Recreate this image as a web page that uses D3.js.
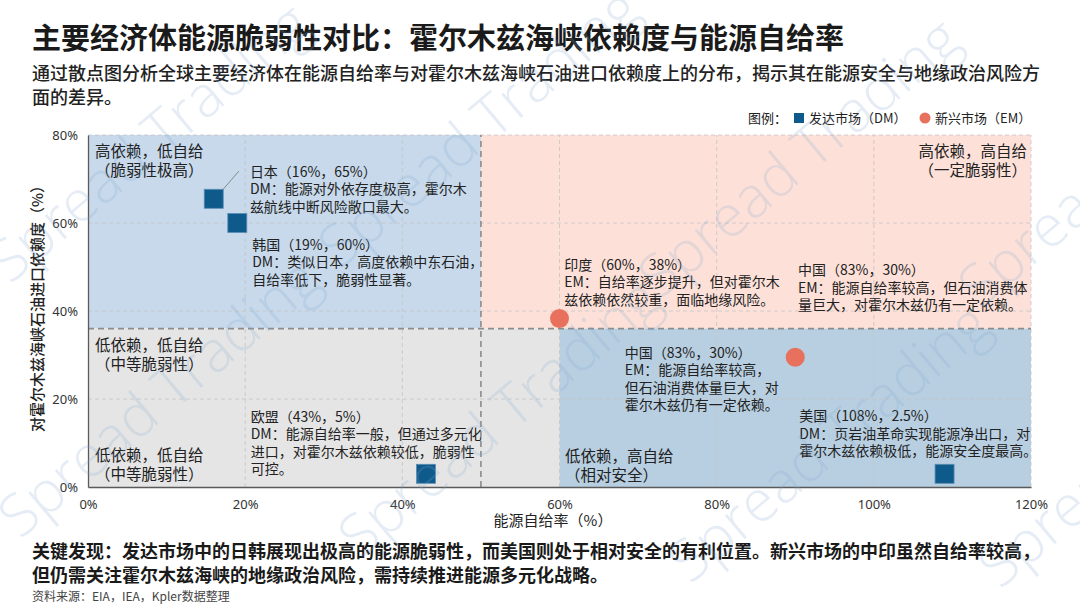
<!DOCTYPE html>
<html><head><meta charset="utf-8">
<script src="https://cdn.jsdelivr.net/npm/d3@7"></script>
<style>
body{margin:0;background:#fff;}
svg{display:block;font-family:"Noto Sans CJK SC","Noto Sans",sans-serif;}
</style></head><body>
<svg id="chart" width="1080" height="608"></svg>
<script>
// ---------------- DATA ----------------
const countries = ["日本", "韩国", "印度", "中国", "欧盟", "美国"];
const marketType = ["DM", "DM", "EM", "EM", "DM", "DM"];
const selfSufficiency = [16, 19, 60, 90, 43, 109];      // x, %
const hormuzDependence = [65.5, 60, 38.3, 29.5, 3, 3];  // y, %
const xTicks = [0, 20, 40, 60, 80, 100, 120];
const yTicks = [0, 20, 40, 60, 80];
const quadrantKeys = ["tl", "tr", "bl", "br"];
const quadX0 = [0, 50, 0, 60];
const quadX1 = [50, 120, 60, 120];
const quadY0 = [36, 36, 0, 0];
const quadY1 = [80, 80, 36, 36];
const thresholdX = 50, thresholdY = 36;

const titleText = "主要经济体能源脆弱性对比：霍尔木兹海峡依赖度与能源自给率";
const subtitleLines = ["通过散点图分析全球主要经济体在能源自给率与对霍尔木兹海峡石油进口依赖度上的分布，揭示其在能源安全与地缘政治风险方", "面的差异。"];
const footerLines = ["关键发现：发达市场中的日韩展现出极高的能源脆弱性，而美国则处于相对安全的有利位置。新兴市场的中印虽然自给率较高，", "但仍需关注霍尔木兹海峡的地缘政治风险，需持续推进能源多元化战略。"];
const sourceText = "资料来源：EIA，IEA，Kpler数据整理";
const legendLabels = ["发达市场（DM）", "新兴市场（EM）"];

const noteTexts = [
  ["日本（16%，65%）", "DM：能源对外依存度极高，霍尔木", "兹航线中断风险敞口最大。"],
  ["韩国（19%，60%）", "DM：类似日本，高度依赖中东石油，", "自给率低下，脆弱性显著。"],
  ["印度（60%，38%）", "EM：自给率逐步提升，但对霍尔木", "兹依赖依然较重，面临地缘风险。"],
  ["中国（83%，30%）", "EM：能源自给率较高，但石油消费体", "量巨大，对霍尔木兹仍有一定依赖。"],
  ["中国（83%，30%）", "EM：能源自给率较高，", "但石油消费体量巨大，对", "霍尔木兹仍有一定依赖。"],
  ["美国（108%，2.5%）", "DM：页岩油革命实现能源净出口，对", "霍尔木兹依赖极低，能源安全度最高。"],
  ["欧盟（43%，5%）", "DM：能源自给率一般，但通过多元化", "进口，对霍尔木兹依赖较低，脆弱性", "可控。"]
];
const quadTexts = [
  ["高依赖，低自给", "（脆弱性极高）"],
  ["高依赖，高自给", "（一定脆弱性）"],
  ["低依赖，低自给", "（中等脆弱性）"],
  ["低依赖，低自给", "（中等脆弱性）"],
  ["低依赖，高自给", "（相对安全）"]
];

// ---------------- LAYOUT / STYLE ----------------
const noteAnchor = [[20.6, 70.45], [20.9, 53.9], [60.6, 49.3], [90.35, 48.1], [68.3, 29.3], [90.5, 14.9], [20.7, 14.8]];
const quadAnchor = [[0.9, 74.95, "start"], [119.5, 74.95, "end"], [0.9, 31.0, "start"], [0.9, 5.8, "start"], [60.7, 5.6, "start"]];
const quadFill = {tl: "#c7d9eb", tr: "#fde1d9", bl: "#e5e5e5", br: "#b8cfe1"};
const markerColor = {DM: "#0e5a8a", EM: "#e8715e"};

const svg = d3.select("#chart");
const x = d3.scaleLinear().domain([0, 120]).range([88, 1031]);
const y = d3.scaleLinear().domain([0, 80]).range([487, 135]);

// quadrants
svg.append("g").selectAll("rect").data(quadrantKeys).join("rect")
  .attr("x", (d, i) => x(quadX0[i]))
  .attr("y", (d, i) => y(quadY1[i]))
  .attr("width", (d, i) => x(quadX1[i]) - x(quadX0[i]))
  .attr("height", (d, i) => y(quadY0[i]) - y(quadY1[i]))
  .attr("fill", d => quadFill[d]);

// grid
const grid = svg.append("g").attr("stroke", "#c4c4c4").attr("stroke-width", 0.8).attr("stroke-dasharray", "4,3");
grid.selectAll(".gx").data(xTicks.filter(d => d > 0)).join("line")
  .attr("x1", d => x(d)).attr("x2", d => x(d)).attr("y1", y(0)).attr("y2", y(80));
grid.selectAll(".gy").data(yTicks.filter(d => d > 0)).join("line")
  .attr("x1", x(0)).attr("x2", x(120)).attr("y1", d => y(d)).attr("y2", d => y(d));

// threshold dividers
const div = svg.append("g").attr("stroke", "#8c8c8c").attr("stroke-width", 1.6).attr("stroke-dasharray", "6,4");
div.append("line").attr("x1", x(thresholdX)).attr("x2", x(thresholdX)).attr("y1", y(0)).attr("y2", y(80));
div.append("line").attr("x1", x(0)).attr("x2", x(120)).attr("y1", y(thresholdY)).attr("y2", y(thresholdY));

// axes
const xAxis = svg.append("g").attr("transform", `translate(0,${y(0)})`)
  .call(d3.axisBottom(x).tickValues(xTicks).tickFormat(d => d + "%").tickSize(0).tickPadding(13));
const yAxis = svg.append("g").attr("transform", `translate(${x(0)},0)`)
  .call(d3.axisLeft(y).tickValues(yTicks).tickFormat(d => d + "%").tickSize(0).tickPadding(10));
[xAxis, yAxis].forEach(a => {
  a.selectAll("text").attr("font-family", "'Noto Sans',sans-serif").attr("font-size", 13).attr("fill", "#333");
});
yAxis.select(".domain").attr("stroke", "#5a5a5a").attr("stroke-width", 1.3);
xAxis.select(".domain").attr("stroke", "#5a5a5a").attr("stroke-width", 1.3);

// axis titles
svg.append("text").attr("x", 553).attr("y", 526).attr("text-anchor", "middle")
  .attr("font-size", 15).attr("fill", "#222").text("能源自给率（%）");
svg.append("text").attr("transform", "translate(43,305) rotate(-90)").attr("text-anchor", "middle")
  .attr("font-size", 15).attr("font-weight", 500).attr("fill", "#222").text("对霍尔木兹海峡石油进口依赖度（%）");

// leader line for Japan
svg.append("line")
  .attr("x1", x(selfSufficiency[0]) + 9).attr("y1", y(hormuzDependence[0]) - 9)
  .attr("x2", x(19.2)).attr("y2", y(71.8))
  .attr("stroke", "#8a8a8a").attr("stroke-width", 1);

// markers
const idx = d3.range(countries.length);
svg.append("g").selectAll("rect").data(idx.filter(i => marketType[i] === "DM")).join("rect")
  .attr("x", i => x(selfSufficiency[i]) - 9.5).attr("y", i => y(hormuzDependence[i]) - 9.5)
  .attr("width", 19).attr("height", 19)
  .attr("fill", markerColor.DM).attr("stroke", "#5b8cb3").attr("stroke-width", 0.8);
svg.append("g").selectAll("circle").data(idx.filter(i => marketType[i] === "EM")).join("circle")
  .attr("cx", i => x(selfSufficiency[i])).attr("cy", i => y(hormuzDependence[i]))
  .attr("r", 9.5).attr("fill", markerColor.EM);

// quadrant labels
quadTexts.forEach((lines, k) => {
  const t = svg.append("text").attr("x", x(quadAnchor[k][0])).attr("y", y(quadAnchor[k][1]))
    .attr("text-anchor", quadAnchor[k][2]).attr("font-size", 15.5).attr("fill", "#222");
  lines.forEach((s, j) => t.append("tspan").attr("x", x(quadAnchor[k][0])).attr("dy", j === 0 ? 0 : 19).text(s));
});

// annotations
noteTexts.forEach((lines, k) => {
  const t = svg.append("text").attr("x", x(noteAnchor[k][0])).attr("y", y(noteAnchor[k][1]))
    .attr("font-size", 14).attr("fill", "#222");
  lines.forEach((s, j) => t.append("tspan").attr("x", x(noteAnchor[k][0])).attr("dy", j === 0 ? 0 : 17.4).text(s));
});

// title & subtitle
svg.append("text").attr("x", 32).attr("y", 49).attr("font-size", 29).attr("font-weight", 700)
  .attr("fill", "#1a1a1a").text(titleText);
subtitleLines.forEach((s, j) => svg.append("text").attr("x", 32).attr("y", 79.5 + j * 24)
  .attr("font-size", 18).attr("font-weight", 500).attr("fill", "#222").text(s));

// legend
svg.append("text").attr("x", 748).attr("y", 122.5).attr("font-size", 13).attr("fill", "#222").text("图例：");
svg.append("rect").attr("x", 794).attr("y", 113).attr("width", 10).attr("height", 10).attr("fill", markerColor.DM);
svg.append("text").attr("x", 809).attr("y", 122.5).attr("font-size", 13).attr("fill", "#222").text(legendLabels[0]);
svg.append("circle").attr("cx", 925).attr("cy", 118).attr("r", 5.5).attr("fill", markerColor.EM);
svg.append("text").attr("x", 935).attr("y", 122.5).attr("font-size", 13).attr("fill", "#222").text(legendLabels[1]);

// footer
footerLines.forEach((s, j) => svg.append("text").attr("x", 32).attr("y", 557.5 + j * 24)
  .attr("font-size", 18).attr("font-weight", 700).attr("fill", "#1a1a1a").text(s));
svg.append("text").attr("x", 32).attr("y", 601).attr("font-size", 12).attr("fill", "#444").text(sourceText);

// watermark (decorative)
const wm = svg.append("g").attr("pointer-events", "none");
[[20, 540], [10, 285], [340, 270], [360, 560], [660, 300], [690, 585], [980, 310], [1000, 590]].forEach(p => {
  wm.append("text").attr("transform", `translate(${p[0]},${p[1]}) rotate(-40)`)
    .attr("font-family", "'Open Sans','Noto Sans',sans-serif").attr("font-weight", 300)
    .attr("font-size", 58).attr("fill", "#7fa6cf").attr("opacity", 0.2).text("Spread  Trading");
});
</script>
</body></html>
